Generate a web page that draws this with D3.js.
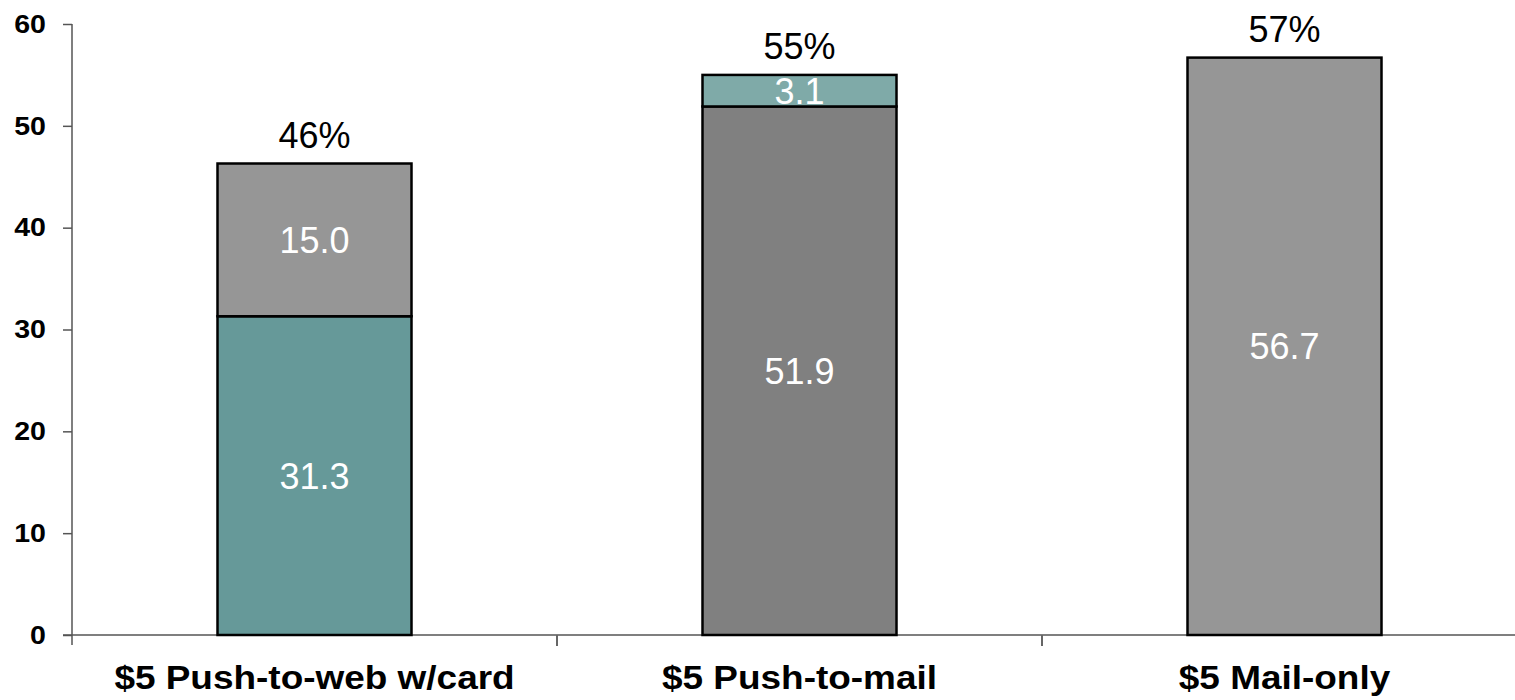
<!DOCTYPE html>
<html>
<head>
<meta charset="utf-8">
<script src="https://cdn.jsdelivr.net/npm/d3@7"></script>
<style>
  html, body { margin: 0; padding: 0; background: #fff; }
  svg { display: block; font-family: "Liberation Sans", Arial, sans-serif; }
</style>
</head>
<body>
<svg id="chart" width="1515" height="700"></svg>
<script>
// Response rates by treatment group (percent)
const categories = ["$5 Push-to-web w/card", "$5 Push-to-mail", "$5 Mail-only"];
// Lower and upper stacked segments of each bar
const lowerValues = [31.3, 51.9, 56.7];
const upperValues = [15.0, 3.1, 0];
const lowerColors = ["#669999", "#808080", "#969696"];
const upperColors = ["#969696", "#7faaa8", "#969696"];
const totalLabels = ["46%", "55%", "57%"];
const yTicks = [0, 10, 20, 30, 40, 50, 60];

const svg = d3.select("#chart");
const plotLeft = 72, plotRight = 1527, plotTop = 24, plotBottom = 635;
const boldStretch = 1.12; // bold labels are set slightly wide

const x = d3.scaleBand().domain(categories).range([plotLeft, plotRight]).padding(0);
const y = d3.scaleLinear().domain([0, 60]).range([plotBottom, plotTop]);
const barW = x.bandwidth() * 0.4;

// Y axis
const yAxis = svg.append("g")
  .attr("transform", `translate(${plotLeft},0)`)
  .call(d3.axisLeft(y).tickValues(yTicks).tickSize(9));
yAxis.select(".domain").attr("d", `M0,${plotTop}V${plotBottom + 10}`);
yAxis.selectAll("line, .domain").attr("stroke", "#555").attr("stroke-width", 1.5);
yAxis.selectAll(".tick text")
  .attr("x", null)
  .attr("transform", `translate(-26,0) scale(${boldStretch},1)`)
  .attr("font-size", 25.5).attr("font-weight", "bold").attr("fill", "#000")
  .attr("font-family", "Liberation Sans, Arial, sans-serif");

// X axis
const xAxis = svg.append("g").attr("transform", `translate(0,${plotBottom})`);
xAxis.append("line")
  .attr("x1", plotLeft - 9).attr("x2", 1515).attr("y1", 0).attr("y2", 0)
  .attr("stroke", "#555").attr("stroke-width", 1.5);
xAxis.selectAll("line.tick")
  .data(categories.slice(1))
  .join("line")
  .attr("class", "tick")
  .attr("x1", d => x(d)).attr("x2", d => x(d))
  .attr("y1", 0).attr("y2", 11)
  .attr("stroke", "#666").attr("stroke-width", 2);
xAxis.selectAll("text")
  .data(categories)
  .join("text")
  .attr("transform", d => `translate(${x(d) + x.bandwidth() / 2},54) scale(${boldStretch},1)`)
  .attr("text-anchor", "middle")
  .attr("font-size", 33).attr("font-weight", "bold").attr("fill", "#000")
  .text(d => d);

// Stacked bars
const bars = categories.map((c, i) => ({
  cat: c,
  lower: lowerValues[i],
  upper: upperValues[i],
  lowerColor: lowerColors[i],
  upperColor: upperColors[i],
  label: totalLabels[i]
}));

const g = svg.append("g");
bars.forEach(b => {
  const x0 = x(b.cat) + (x.bandwidth() - barW) / 2;
  const segs = [
    { from: 0, to: b.lower, color: b.lowerColor },
    { from: b.lower, to: b.lower + b.upper, color: b.upperColor }
  ].filter(s => s.to > s.from);

  segs.forEach(s => {
    g.append("rect")
      .attr("x", x0).attr("width", barW)
      .attr("y", y(s.to)).attr("height", y(s.from) - y(s.to))
      .attr("fill", s.color)
      .attr("stroke", "#000").attr("stroke-width", 2.5);
    g.append("text")
      .attr("x", x0 + barW / 2)
      .attr("y", (y(s.from) + y(s.to)) / 2)
      .attr("dy", "0.36em")
      .attr("text-anchor", "middle")
      .attr("font-size", 36).attr("fill", "#fff")
      .text((s.to - s.from).toFixed(1));
  });

  g.append("text")
    .attr("x", x0 + barW / 2)
    .attr("y", y(b.lower + b.upper) - 16)
    .attr("text-anchor", "middle")
    .attr("font-size", 36).attr("fill", "#000")
    .text(b.label);
});
</script>
</body>
</html>
